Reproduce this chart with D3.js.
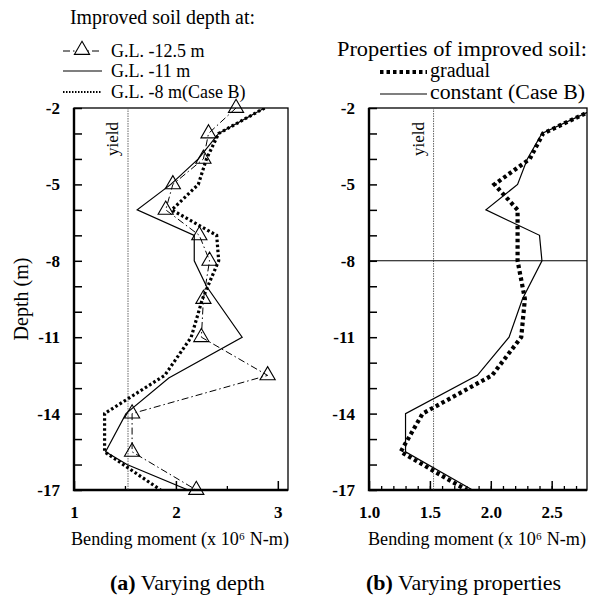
<!DOCTYPE html>
<html>
<head>
<meta charset="utf-8">
<script src="https://cdn.jsdelivr.net/npm/d3@7"></script>
<style>
body { margin: 0; background: #fff; }
svg { display: block; }
svg text { font-family: "Liberation Serif", "Times New Roman", serif; fill: #000; }
</style>
</head>
<body>
<script>
// depths (m) where the curves are sampled
const depthSteps = [-2, -3, -4, -5, -6, -7, -8, -9.5, -11, -12.5, -14, -15.5, -17];
// (a) improved soil depth at G.L. -12.5 m
const gl125Moment = [2.59, 2.32, 2.27, 1.97, 1.90, 2.23, 2.33, 2.27, 2.25, 2.90, 1.57, 1.57, 2.20];
// (a) improved soil depth at G.L. -11 m
const gl11Depth = [-2, -3, -4, -5, -6, -7, -8, -9, -11, -12.6, -14, -15.5, -16, -17];
const gl11Moment = [2.87, 2.42, 2.22, 1.95, 1.62, 2.18, 2.18, 2.30, 2.65, 1.93, 1.51, 1.31, 1.52, 2.12];
// Case B: G.L. -8 m, constant properties (shared by both panels)
const caseBMoment = [2.87, 2.42, 2.30, 2.22, 1.96, 2.40, 2.42, 2.26, 2.15, 1.89, 1.30, 1.30, 1.85];
// (b) gradual properties
const gradualMoment = [2.87, 2.43, 2.32, 2.03, 2.22, 2.22, 2.22, 2.28, 2.25, 2.01, 1.44, 1.26, 1.80];

const depthLabels = [-2, -5, -8, -11, -14, -17];
const xTicksA = [1, 2, 3];
const xMinorA = [1.5, 2.5];
const xTicksB = [1.0, 1.5, 2.0, 2.5];
const xMinorB = d3.range(1.1, 2.75, 0.1);
const yieldMoment = 1.53;

const W = 592, H = 602;
const plotTop = 108, plotBottom = 490;
const serif = "Liberation Serif, Times New Roman, serif";

const svg = d3.select("body").append("svg")
	.attr("width", W).attr("height", H)
	.attr("font-family", serif);

const y = d3.scaleLinear().domain([-2, -17]).range([plotTop, plotBottom]);
const xA = d3.scaleLinear().domain([1, 3.1]).range([74, 288]);
const xB = d3.scaleLinear().domain([1, 2.79]).range([369, 587]);

const line = (x, depths) => d3.line()
	.x(d => x(d))
	.y((d, i) => y(depths[i]));

function drawFrame(x, id, majors, minors, fmt) {
	const [x0, x1] = x.range();
	svg.append("clipPath").attr("id", id)
		.append("rect").attr("x", x0).attr("y", plotTop).attr("width", x1 - x0).attr("height", plotBottom - plotTop);

	// depth ticks, every metre, pointing inward
	const ya = svg.append("g")
		.attr("transform", `translate(${x0},0)`)
		.call(d3.axisLeft(y)
			.tickValues(d3.range(-2, -17.5, -1))
			.tickSize(-8)
			.tickPadding(14)
			.tickFormat(d => depthLabels.includes(d) ? String(d) : ""));
	ya.attr("font-family", serif).attr("font-size", 17).attr("font-weight", "bold");
	ya.select(".domain").remove();
	ya.selectAll("line").attr("stroke-width", 1.5);

	const xa = svg.append("g")
		.attr("transform", `translate(0,${plotBottom})`)
		.call(d3.axisBottom(x).tickValues(majors).tickSize(-9).tickPadding(16).tickFormat(fmt));
	xa.attr("font-family", serif).attr("font-size", 17).attr("font-weight", "bold");
	xa.select(".domain").remove();
	xa.selectAll("line").attr("stroke-width", 1.5);

	const xm = svg.append("g")
		.attr("transform", `translate(0,${plotBottom})`)
		.call(d3.axisBottom(x).tickValues(minors).tickSize(-4).tickFormat(""));
	xm.select(".domain").remove();
	xm.selectAll("line").attr("stroke-width", 1.3);

	svg.append("rect")
		.attr("x", x0).attr("y", plotTop).attr("width", x1 - x0).attr("height", plotBottom - plotTop)
		.attr("fill", "none").attr("stroke", "#000").attr("stroke-width", 1.3);
	svg.append("path")
		.attr("d", `M${x0},${plotTop}V${plotBottom}H${x1}`)
		.attr("fill", "none").attr("stroke", "#000").attr("stroke-width", 2.4);

	// yield line
	svg.append("line")
		.attr("x1", x(yieldMoment)).attr("x2", x(yieldMoment))
		.attr("y1", plotTop).attr("y2", plotBottom)
		.attr("stroke", "#555").attr("stroke-width", 0.9).attr("stroke-dasharray", "1.5,1");
	svg.append("text")
		.attr("transform", `translate(${x(yieldMoment) - 10},${plotTop + 48}) rotate(-90)`)
		.attr("font-size", 17)
		.text("yield");

	// axis title
	svg.append("text")
		.attr("x", (x0 + x1) / 2 - 110).attr("y", 545)
		.attr("font-size", 18.5)
		.attr("textLength", 218).attr("lengthAdjust", "spacingAndGlyphs")
		.text("Bending moment (x 10\u2076 N-m)");
}

drawFrame(xA, "clipA", xTicksA, xMinorA, d3.format("d"));
drawFrame(xB, "clipB", xTicksB, xMinorB, d3.format(".1f"));

// horizontal line at -8 m in panel (b)
svg.append("line")
	.attr("x1", xB.range()[0]).attr("x2", xB.range()[1])
	.attr("y1", y(-8)).attr("y2", y(-8))
	.attr("stroke", "#000").attr("stroke-width", 1.1);

// panel (a) curves
const gA = svg.append("g").attr("clip-path", "url(#clipA)");

gA.append("path")
	.attr("d", line(xA, depthSteps)(caseBMoment))
	.attr("fill", "none").attr("stroke", "#000")
	.attr("stroke-width", 3.2).attr("stroke-dasharray", "2.6,2.4");

gA.append("path")
	.attr("d", line(xA, gl11Depth)(gl11Moment))
	.attr("fill", "none").attr("stroke", "#000").attr("stroke-width", 1.2);

gA.append("path")
	.attr("d", line(xA, depthSteps)(gl125Moment))
	.attr("fill", "none").attr("stroke", "#000")
	.attr("stroke-width", 1).attr("stroke-dasharray", "7,3,1.5,3");

const tri = d3.symbol().type(d3.symbolTriangle).size(100);
svg.append("g").selectAll("path")
	.data(gl125Moment)
	.join("path")
	.attr("d", tri)
	.attr("transform", (d, i) => `translate(${xA(d)},${y(depthSteps[i])})`)
	.attr("fill", "none").attr("stroke", "#000").attr("stroke-width", 1.1);

// panel (b) curves
const gB = svg.append("g").attr("clip-path", "url(#clipB)");

gB.append("path")
	.attr("d", line(xB, depthSteps)(gradualMoment))
	.attr("fill", "none").attr("stroke", "#000")
	.attr("stroke-width", 4.2).attr("stroke-dasharray", "3.5,3");

gB.append("path")
	.attr("d", line(xB, depthSteps)(caseBMoment))
	.attr("fill", "none").attr("stroke", "#000").attr("stroke-width", 1.2);

// legend (a)
svg.append("text").attr("x", 70).attr("y", 24).attr("font-size", 20)
	.attr("textLength", 185).attr("lengthAdjust", "spacingAndGlyphs")
	.text("Improved soil depth at:");

const legA = [
	{ label: "G.L. -12.5 m", y: 57, dash: "7,3,1.5,3", width: 1, tri: true },
	{ label: "G.L. -11 m", y: 77, dash: null, width: 1.2 },
	{ label: "G.L. -8 m(Case B)", y: 98, dash: "1.5,1.5", width: 2 }
];
legA.forEach(d => {
	svg.append("line")
		.attr("x1", 63).attr("x2", 102).attr("y1", d.y - 6).attr("y2", d.y - 6)
		.attr("stroke", "#000").attr("stroke-width", d.width)
		.attr("stroke-dasharray", d.dash);
	if (d.tri) {
		svg.append("path").attr("d", tri)
			.attr("transform", `translate(82,${d.y - 7})`)
			.attr("fill", "#fff").attr("stroke", "#000").attr("stroke-width", 1.1);
	}
	svg.append("text").attr("x", 111).attr("y", d.y).attr("font-size", 18).text(d.label);
});

// legend (b)
svg.append("text").attr("x", 337).attr("y", 56).attr("font-size", 20)
	.attr("textLength", 250).attr("lengthAdjust", "spacingAndGlyphs")
	.text("Properties of improved soil:");

const legB = [
	{ label: "gradual", y: 77, dash: "3.5,3", width: 4, len: null },
	{ label: "constant (Case B)", y: 99, dash: null, width: 1.2, len: 155 }
];
legB.forEach(d => {
	svg.append("line")
		.attr("x1", 380).attr("x2", 427).attr("y1", d.y - 5).attr("y2", d.y - 5)
		.attr("stroke", "#000").attr("stroke-width", d.width)
		.attr("stroke-dasharray", d.dash);
	const t = svg.append("text").attr("x", 430).attr("y", d.y).attr("font-size", 20).text(d.label);
	if (d.len) t.attr("textLength", d.len).attr("lengthAdjust", "spacingAndGlyphs");
});

// depth axis title
svg.append("text")
	.attr("transform", `translate(28,${(plotTop + plotBottom) / 2}) rotate(-90)`)
	.attr("text-anchor", "middle").attr("font-size", 20)
	.text("Depth (m)");

// captions
[["(a)", " Varying depth", 110], ["(b)", " Varying properties", 366]].forEach(([a, b, x]) => {
	const t = svg.append("text").attr("x", x).attr("y", 590).attr("font-size", 22);
	t.append("tspan").attr("font-weight", "bold").text(a);
	t.append("tspan").text(b);
});
</script>
</body>
</html>
